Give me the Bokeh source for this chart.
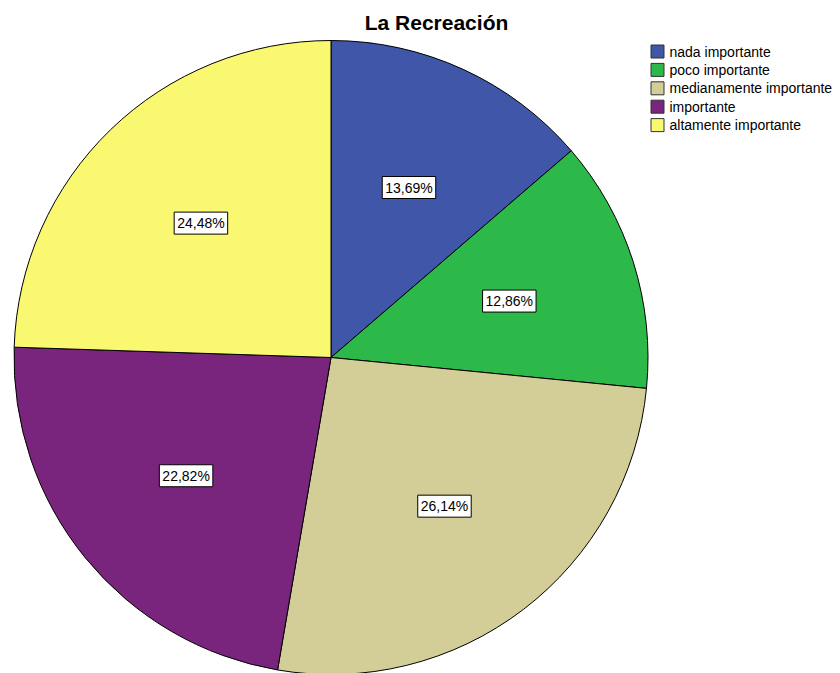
import math
from bokeh.plotting import figure
from bokeh.models import Range1d, ColumnDataSource
from bokeh.core.properties import value
from bokeh.embed import file_html
from bokeh.resources import INLINE

title = "La Recreación"
categories = ["nada importante", "poco importante", "medianamente importante",
              "importante", "altamente importante"]
percents = [13.69, 12.86, 26.14, 22.82, 24.48]
colors = ["#3F56A9", "#2DB84A", "#D3CE98", "#7A257D", "#FAF770"]

W, H = 840, 673
p = figure(width=W, height=H, output_backend="svg", toolbar_location=None,
           x_range=Range1d(0, W), y_range=Range1d(0, H), min_border=0)
p.axis.visible = False
p.grid.grid_line_color = None
p.outline_line_color = None
p.background_fill_color = "white"

cx, cy, R = 330.5, H - 357.0, 317.0
total = sum(percents)
starts, ends, mids = [], [], []
cum = 0.0
for v in percents:
    a0 = math.pi / 2 - 2 * math.pi * cum / total
    cum += v
    a1 = math.pi / 2 - 2 * math.pi * cum / total
    starts.append(a1)
    ends.append(a0)
    mids.append((a0 + a1) / 2)

src = ColumnDataSource(dict(start=starts, end=ends, color=colors, cat=categories))
p.wedge(x=cx, y=cy, radius=R, start_angle="start", end_angle="end",
        fill_color="color", line_color="black", line_width=1, source=src)

lr = 0.59 * R
labels = [f"{v:.2f}%".replace(".", ",") for v in percents]
lsrc = ColumnDataSource(dict(x=[cx + lr * math.cos(m) for m in mids],
                             y=[cy + lr * math.sin(m) for m in mids],
                             t=labels))
p.text(x="x", y="y", text="t", source=lsrc, text_align="center",
       text_baseline="middle", text_font=value("Liberation Sans"),
       text_font_size="14px", text_color="black",
       background_fill_color="white", border_line_color="black",
       border_line_width=1, padding=3)

# title
p.text(x=[436], y=[H - 22], text=[title], text_align="center",
       text_baseline="middle", text_font=value("Liberation Sans"),
       text_font_size="21px", text_font_style="bold", text_color="black")

# legend
lx, ly0, dy = 650, H - 51.0, 18.4
leg_y = [ly0 - i * dy for i in range(len(categories))]
p.rect(x=[lx + 7] * len(categories), y=leg_y, width=13, height=13,
       fill_color=colors, line_color="#333333", line_width=1)
p.text(x=[lx + 19] * len(categories), y=leg_y, text=categories,
       text_align="left", text_baseline="middle",
       text_font=value("Liberation Sans"), text_font_size="14px",
       text_color="black")

open("out.html", "w").write(file_html(p, INLINE))
